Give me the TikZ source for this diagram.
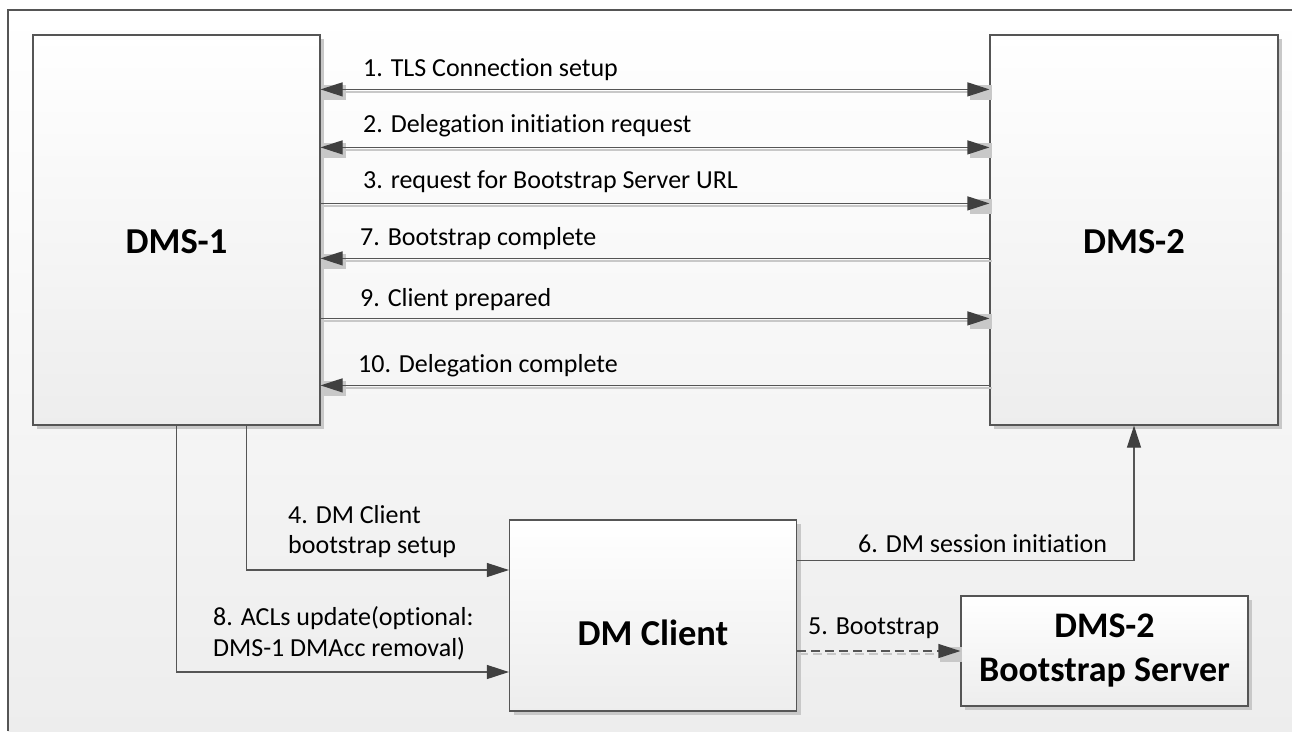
\documentclass[tikz,border=0pt]{standalone}
\usepackage{fontspec}
\setmainfont{Carlito}[Ligatures=NoCommon]
\usetikzlibrary{arrows.meta,calc,shadows}
\definecolor{ln}{HTML}{555555}
\definecolor{hd}{HTML}{404040}
\definecolor{sh}{HTML}{C8C8C8}
\begin{document}
\begin{tikzpicture}[x=1pt,y=-1pt,
  box/.style={draw=ln, line width=1.2pt, rectangle, top color=white, bottom color=black!7,
    general shadow={fill=sh, shadow xshift=4pt, shadow yshift=-4pt}, inner sep=0pt},
  title/.style={font=\bfseries\fontsize{36.5}{44}\selectfont, inner sep=0pt, anchor=base},
  lbl/.style={font=\fontsize{26}{30}\selectfont, inner sep=0pt, anchor=base west},
  arrright/.style={draw=ln, line width=1.2pt, -{Triangle[length=22pt,width=14pt,fill=hd,color=hd]}},
  arrleft/.style={draw=ln, line width=1.2pt, {Triangle[length=22pt,width=14pt,fill=hd,color=hd]}-},
  arrboth/.style={draw=ln, line width=1.2pt, {Triangle[length=22pt,width=14pt,fill=hd,color=hd]}-{Triangle[length=22pt,width=14pt,fill=hd,color=hd]}},
  shdright/.style={draw=sh, line width=2pt, -{Rectangle[length=22pt,width=15pt,fill=sh,color=sh]}},
  shdleft/.style={draw=sh, line width=2pt, {Rectangle[length=22pt,width=15pt,fill=sh,color=sh]}-},
  shdboth/.style={draw=sh, line width=2pt, {Rectangle[length=22pt,width=15pt,fill=sh,color=sh]}-{Rectangle[length=22pt,width=15pt,fill=sh,color=sh]}},
  dsh/.style={dash pattern=on 9pt off 5pt},
  ]
\useasboundingbox (0,0) rectangle (1292,731);
\shade[top color=white,bottom color=black!7] (8,10) rectangle (1292,731);
\draw[ln, line width=1.2pt] (8,731) -- (8,10) -- (1292,10);

% boxes
\node[box, minimum width=287pt, minimum height=390pt] (dms1) at (176.5,230) {};
\node[box, minimum width=288pt, minimum height=390pt] (dms2) at (1134,230) {};
\node[box, minimum width=287pt, minimum height=191pt] (client) at (653,615.5) {};
\node[box, minimum width=287pt, minimum height=110pt, align=center,
      font=\bfseries\fontsize{36}{44}\selectfont] (bs) at (1104.5,651) {DMS-2\\Bootstrap Server};

\node[title] (t1) at ($(dms1.center)+(0,23)$) {DMS-1};
\node[title] (t2) at ($(dms2.center)+(0,23)$) {DMS-2};
\node[title] (t3) at ($(client.center)+(0,29.5)$) {DM Client};

% horizontal arrows between DMS-1 and DMS-2
\foreach \dy/\s in {55/both,113/both,169/right,224/left,284/right,351/left}{
  \draw[shd\s] ($(dms1.north east)+(3,\dy+3)$) -- ($(dms2.north west)+(3,\dy+3)$);
  \draw[arr\s] ($(dms1.north east)+(0,\dy)$) -- ($(dms2.north west)+(0,\dy)$);
}
\node[lbl] (l1) at (363,76) {1. TLS Connection setup};
\node[lbl] (l2) at (363,132) {2. Delegation initiation request};
\node[lbl] (l3) at (363,188) {3. request for Bootstrap Server URL};
\node[lbl] (l7) at (360,245) {7. Bootstrap complete};
\node[lbl] (l9) at (360,306) {9. Client prepared};
\node[lbl] (l10) at (358,372) {10. Delegation complete};

% DMS-1 to DM Client
\draw[arrright] ($(dms1.south)+(70,0)$) |- ($(client.west)+(0,-45.5)$);
\draw[arrright] (dms1.south) |- ($(client.west)+(0,56.5)$);
\node[lbl] (l4a) at (288,523) {4. DM Client};
\node[lbl] (l4b) at (288,553) {bootstrap setup};
\node[lbl] (l8a) at (213,625) {8. ACLs update(optional:};
\node[lbl] (l8b) at (213,656) {DMS-1 DMAcc removal)};

% DM Client to DMS-2
\draw[arrright] ($(client.east)+(0,-55)$) -| (dms2.south);
\node[lbl] (l6) at (858,552) {6. DM session initiation};

% DM Client to Bootstrap server
\draw[shdright, dsh] ($(client.east |- bs.west)+(2,3)$) -- ($(bs.west)+(2,3)$);
\draw[arrright, dsh] (client.east |- bs.west) -- (bs.west);
\node[lbl] (l5) at (808,634) {5. Bootstrap};
\end{tikzpicture}
\end{document}
